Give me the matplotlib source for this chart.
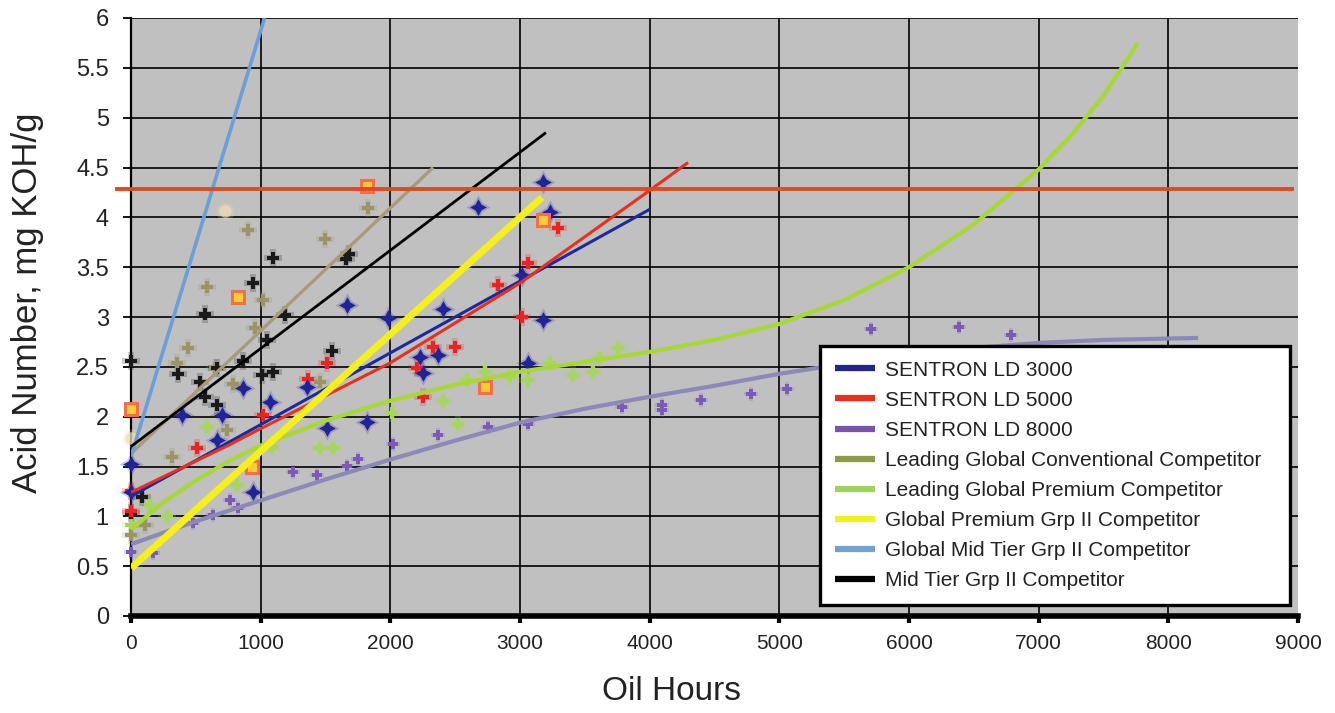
import matplotlib
matplotlib.use("Agg")
import matplotlib.pyplot as plt
from matplotlib.lines import Line2D

# ---------------- data ----------------
series_names = [
    "SENTRON LD 3000",
    "SENTRON LD 5000",
    "SENTRON LD 8000",
    "Leading Global Conventional Competitor",
    "Leading Global Premium Competitor",
    "Global Premium Grp II Competitor",
    "Global Mid Tier Grp II Competitor",
    "Mid Tier Grp II Competitor",
]
legend_colors = ["#23238f", "#e8301e", "#7b52b4", "#8c9a48",
                 "#9ed45a", "#f2f21a", "#6fa3d6", "#000000"]

# scatter points
ld3000_x = [0, 0, 393, 663, 702, 864, 941, 1072, 1357, 1511, 1666, 1820, 1982,
            2229, 2252, 2367, 2406, 2676, 3015, 3062, 3177, 3177, 3231]
ld3000_y = [1.53, 1.24, 2.02, 1.77, 2.02, 2.29, 1.24, 2.15, 2.30, 1.89, 3.12, 1.95, 2.99,
            2.60, 2.44, 2.62, 3.08, 4.10, 3.42, 2.54, 4.35, 2.97, 4.05]

ld5000_x = [0, 0, 509, 1018, 1365, 1511, 2206, 2252, 2329, 2499, 2830, 3015, 3062, 3293]
ld5000_y = [1.05, 1.25, 1.69, 2.02, 2.38, 2.54, 2.49, 2.20, 2.70, 2.70, 3.32, 3.00, 3.54, 3.89]

ld8000_x = [0, 170, 478, 632, 763, 825, 1249, 1434, 1666, 1751, 2020, 2367, 2753, 3062,
            3787, 4095, 4095, 4397, 4779, 5059, 5706, 6388, 6785]
ld8000_y = [0.64, 0.63, 0.93, 1.01, 1.16, 1.08, 1.44, 1.41, 1.51, 1.58, 1.73, 1.82, 1.90, 1.93,
            2.10, 2.12, 2.07, 2.17, 2.23, 2.28, 2.88, 2.90, 2.82]

conv_x = [0, 108, 316, 355, 440, 586, 648, 740, 787, 902, 956, 1018, 1458, 1496, 1828]
conv_y = [0.81, 0.91, 1.60, 2.54, 2.69, 3.30, 2.49, 1.87, 2.33, 3.87, 2.89, 3.17, 2.35, 3.78, 4.09]

prem_x = [0, 147, 278, 586, 817, 1087, 1458, 1558, 2013, 2406, 2522, 2591, 2730, 2923,
          3062, 3231, 3409, 3563, 3617, 3756]
prem_y = [0.91, 1.11, 1.00, 1.90, 1.31, 1.70, 1.69, 1.69, 2.04, 2.16, 1.93, 2.37, 2.45, 2.40,
          2.37, 2.54, 2.42, 2.45, 2.59, 2.69]

grp2_x = [0, 825, 933, 1820, 2730, 3177]
grp2_y = [2.08, 3.20, 1.49, 4.31, 2.30, 3.97]

midtier_pts_x = [0, 725]
midtier_pts_y = [1.79, 4.06]

black_x = [0, 0, 85, 362, 532, 571, 571, 663, 663, 864, 941, 1010, 1049, 1095, 1095,
           1188, 1550, 1660, 1680]
black_y = [2.56, 1.03, 1.19, 2.43, 2.35, 3.03, 2.20, 2.49, 2.12, 2.56, 3.34, 2.42, 2.77,
           3.59, 2.45, 3.02, 2.66, 3.58, 3.63]

# trend lines (knots)
t3000_x = [0, 4000];                 t3000_y = [1.20, 4.08]
t5000_x = [0, 763, 1000, 2000, 3000, 4000, 4296]
t5000_y = [1.24, 1.72, 1.88, 2.54, 3.34, 4.27, 4.55]
t8000_x = [0, 500, 1000, 1500, 2000, 2500, 3000, 3500, 4000, 4500, 5000,
           5500, 6000, 6500, 7000, 7500, 8230]
t8000_y = [0.72, 0.95, 1.16, 1.37, 1.57, 1.76, 1.94, 2.08, 2.20, 2.31, 2.43,
           2.53, 2.62, 2.69, 2.74, 2.77, 2.79]
tconv_x = [0, 2330];                 tconv_y = [1.63, 4.50]
tprem_x = [0, 250, 500, 750, 1000, 1500, 2000, 2500, 3000, 3500, 4000, 4500, 5000,
           5500, 6000, 6500, 7000, 7250, 7500, 7766]
tprem_y = [0.87, 1.14, 1.36, 1.55, 1.71, 1.96, 2.16, 2.32, 2.45, 2.55, 2.65, 2.77, 2.93,
           3.17, 3.50, 3.93, 4.48, 4.82, 5.22, 5.75]
tgrp2_x = [0, 3170];                 tgrp2_y = [0.48, 4.20]
tmid_x = [0, 1030];                  tmid_y = [1.60, 6.00]
tblack_x = [0, 3200];                tblack_y = [1.70, 4.85]

limit_value = 4.28
limit_x = [-123, 8968]

x_ticks = [0, 1000, 2000, 3000, 4000, 5000, 6000, 7000, 8000, 9000]
y_ticks = [0, 0.5, 1, 1.5, 2, 2.5, 3, 3.5, 4, 4.5, 5, 5.5, 6]
y_tick_labels = ["0", "0.5", "1", "1.5", "2", "2.5", "3", "3.5", "4", "4.5", "5", "5.5", "6"]

# ---------------- figure ----------------
plt.rcParams["font.family"] = ["Liberation Sans", "DejaVu Sans"]
fig = plt.figure(figsize=(13.35, 7.13), dpi=100)
ax = fig.add_axes([131 / 1335, 97 / 713, 1167 / 1335, 598 / 713])
ax.set_facecolor("#c0c0c0")
ax.set_xlim(0, 9000)
ax.set_ylim(0, 6)

ax.set_xticks(x_ticks)
ax.set_xticklabels([str(v) for v in x_ticks])
ax.set_yticks(y_ticks)
ax.set_yticklabels(y_tick_labels)
ax.grid(True, color="black", linewidth=1.2, zorder=0)
ax.set_axisbelow(True)
ax.get_xgridlines()[-1].set_visible(False)

for s in ["top", "right"]:
    ax.spines[s].set_visible(False)
ax.spines["left"].set_linewidth(1.6)
ax.spines["bottom"].set_linewidth(4.0)
ax.tick_params(axis="y", length=6, width=1.3, pad=10, labelsize=17, labelcolor="#222222")
ax.tick_params(axis="x", length=5, width=3, pad=8, labelsize=15, labelcolor="#222222")

# scatter markers (with soft halo)
def pts(x, y, color, marker, ms, mec=None, mew=0.0, halo=True, alpha=1.0):
    if halo:
        ax.plot(x, y, linestyle="none", marker=marker, ms=ms * 1.45, color=color,
                alpha=0.22, mew=0, clip_on=False, zorder=3)
    ax.plot(x, y, linestyle="none", marker=marker, ms=ms, color=color, alpha=alpha,
            mec=mec if mec else color, mew=mew, clip_on=False, zorder=4)

pts(prem_x, prem_y, "#a6d65a", "P", 8.5)
pts(conv_x, conv_y, "#9a9466", "P", 8.5)
pts(black_x, black_y, "#1a1a1a", "P", 8.5)
pts(ld8000_x, ld8000_y, "#7a5cb8", "P", 7)
pts(ld5000_x, ld5000_y, "#ee2222", "P", 8.5)
pts(ld3000_x, ld3000_y, "#22229a", (4, 1, 0), 12)
pts(midtier_pts_x, midtier_pts_y, "#eedcb4", "o", 9, halo=True, alpha=0.7)
pts(grp2_x, grp2_y, "#ffcc33", "s", 8, mec="#f07048", mew=2.2, halo=False)

# trend lines
ax.plot(t8000_x, t8000_y, color="#8c88b8", lw=3.0, zorder=5, solid_capstyle="butt")
ax.plot(tprem_x, tprem_y, color="#a8d832", lw=3.0, zorder=5, solid_capstyle="butt",
        solid_joinstyle="round")
ax.plot(tconv_x, tconv_y, color="#aa9a7c", lw=2.4, zorder=5, solid_capstyle="butt")
ax.plot(tmid_x, tmid_y, color="#6a9fd8", lw=2.6, zorder=5, solid_capstyle="butt")
ax.plot(tblack_x, tblack_y, color="#000000", lw=2.0, zorder=5, solid_capstyle="butt")
ax.plot(t3000_x, t3000_y, color="#1c2aa0", lw=2.2, zorder=6, solid_capstyle="butt")
ax.plot(t5000_x, t5000_y, color="#e8301e", lw=2.2, zorder=6, solid_capstyle="butt")
ax.plot(tgrp2_x, tgrp2_y, color="#f5f01a", lw=5.0, zorder=6, solid_capstyle="butt")
ax.plot(limit_x, [limit_value, limit_value], color="#dc4a2a", lw=2.8,
        clip_on=False, zorder=6, solid_capstyle="butt")

# labels
ax.set_xlabel("Oil Hours", fontsize=24, color="#222222", va="center")
ax.xaxis.set_label_coords((671 - 131) / 1167, (616 - 692) / 598)
ax.set_ylabel("Acid Number, mg KOH/g", fontsize=25, color="#222222", va="center")
ax.yaxis.set_label_coords((28 - 131) / 1167, (616 - 303) / 598)

# legend
handles = [Line2D([0], [0], color=c, lw=4.5, solid_capstyle="butt") for c in legend_colors]
x0 = (820 - 131) / 1167
x1 = (1290 - 131) / 1167
y0 = (616 - 605) / 598
leg = ax.legend(handles, series_names, loc="lower left",
                bbox_to_anchor=(x0, y0, x1 - x0, 0.4), mode="expand",
                fontsize=15, frameon=True, fancybox=False, framealpha=1,
                edgecolor="black", facecolor="white", handlelength=1.9,
                handletextpad=0.5, labelspacing=0.53, borderpad=0.72,
                borderaxespad=0)
leg.get_frame().set_linewidth(2.4)
leg.set_zorder(10)
for t in leg.get_texts():
    t.set_color("#222222")

fig.savefig("out.png", dpi=100)
